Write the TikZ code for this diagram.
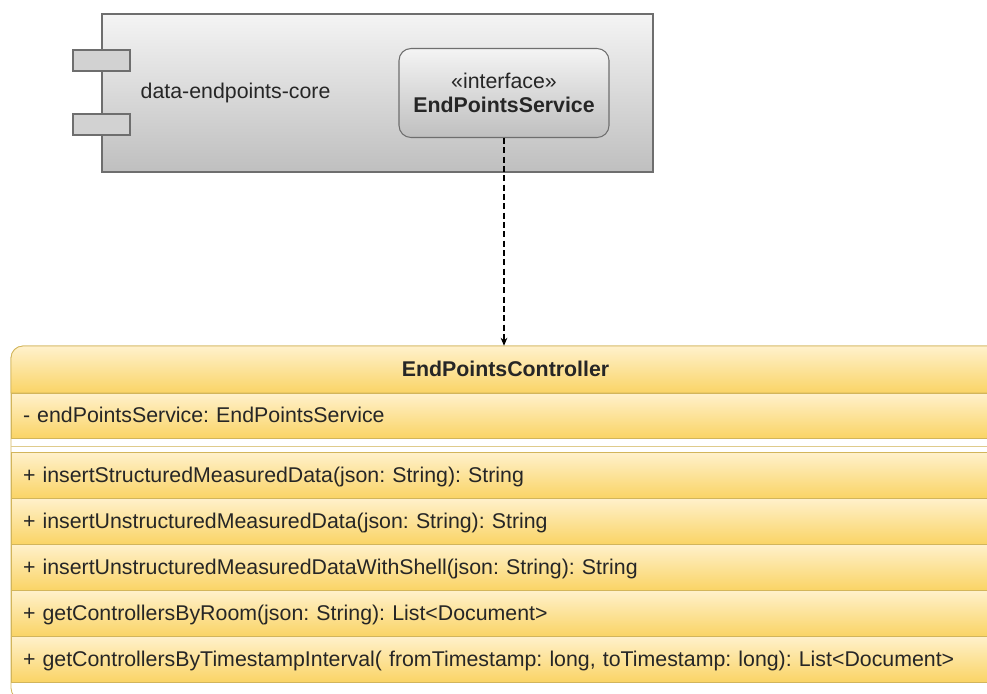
\documentclass[tikz,border=0pt]{standalone}
\usepackage{fontspec}
\setmainfont{Liberation Sans}
\usetikzlibrary{arrows.meta,positioning}

\definecolor{grayTop}{HTML}{F4F4F4}
\definecolor{grayBot}{HTML}{BFBFBF}
\definecolor{grayLine}{HTML}{6E6E6E}
\definecolor{rowTop}{HTML}{FFF1CC}
\definecolor{rowBot}{HTML}{FAD466}
\definecolor{rowLine}{HTML}{D2B55B}
\definecolor{ink}{HTML}{262626}

\begin{document}
\frenchspacing
\begin{tikzpicture}[x=0.75pt, y=-0.75pt, font=\fontsize{16}{18.5}\selectfont, text=ink,
% component parts
comp/.style={draw=grayLine, top color=grayTop, bottom color=grayBot, line width=0.8pt},
port/.style={draw=grayLine, fill=grayBot!70!white, line width=0.8pt,
  minimum width=57*0.75pt, minimum height=21*0.75pt, inner sep=0pt},
% class rows
row/.style={draw=rowLine, top color=rowTop, bottom color=rowBot, line width=0.6pt,
  anchor=north west, minimum height=46*0.75pt, text width=723pt, align=left,
  text height=12pt, text depth=1pt,
  inner xsep=9pt, inner ysep=0pt, outer sep=0pt}
]
\useasboundingbox (0,0) rectangle (987,693);
\clip (0,0) rectangle (987,693);

% component with its two ports
\node (core) [comp, minimum width=551*0.75pt, minimum height=158*0.75pt] at (377.5,93) {};
\node (label) [anchor=west] at (136,93) {data-endpoints-core};
\node (portA) [port] at (101.5,60.5) {};
\node (portB) [port] at (101.5,124.5) {};

\node (iface) [comp, rounded corners=9pt, minimum width=210*0.75pt, minimum height=89*0.75pt,
  align=center] at (504,93) {«interface»\\[0pt]\textbf{EndPointsService}};

% class box
\draw[draw=rowLine, fill=white, line width=0.6pt, rounded corners=9pt] (11,346) rectangle (1000,700);
\shade[top color=rowTop, bottom color=rowBot, draw=rowLine, line width=0.6pt]
  (11,393) [rounded corners=9pt] -- (11,346) -- (1000,346) [sharp corners] -- (1000,393) -- cycle;
\node (ctrl) [minimum width=989*0.75pt, minimum height=47*0.75pt, inner sep=0pt,
  text height=12pt, text depth=1pt] at (505.5,369.5) {\textbf{EndPointsController}};

\node (attr) [row, minimum height=45*0.75pt] at (11,393) {- endPointsService: EndPointsService};
\draw[draw=rowLine!70!white, line width=0.6pt] (11,446) -- (1000,446);

\foreach \m [count=\i] in {
  {+ insertStructuredMeasuredData(json: String): String},
  {+ insertUnstructuredMeasuredData(json: String): String},
  {+ insertUnstructuredMeasuredDataWithShell(json: String): String},
  {+ getControllersByRoom(json: String): List<Document>},
  {+ getControllersByTimestampInterval( fromTimestamp: long, toTimestamp: long): List<Document>}}
  \node (m\i) [row] at (11,{452+46*(\i-1)}) {\m};

\draw[dash pattern=on 4.5pt off 2.5pt, line width=0.8pt, -{Stealth[length=6pt, width=5pt]}]
  (iface.south) -- (iface.south |- ctrl.north);
\end{tikzpicture}
\end{document}
